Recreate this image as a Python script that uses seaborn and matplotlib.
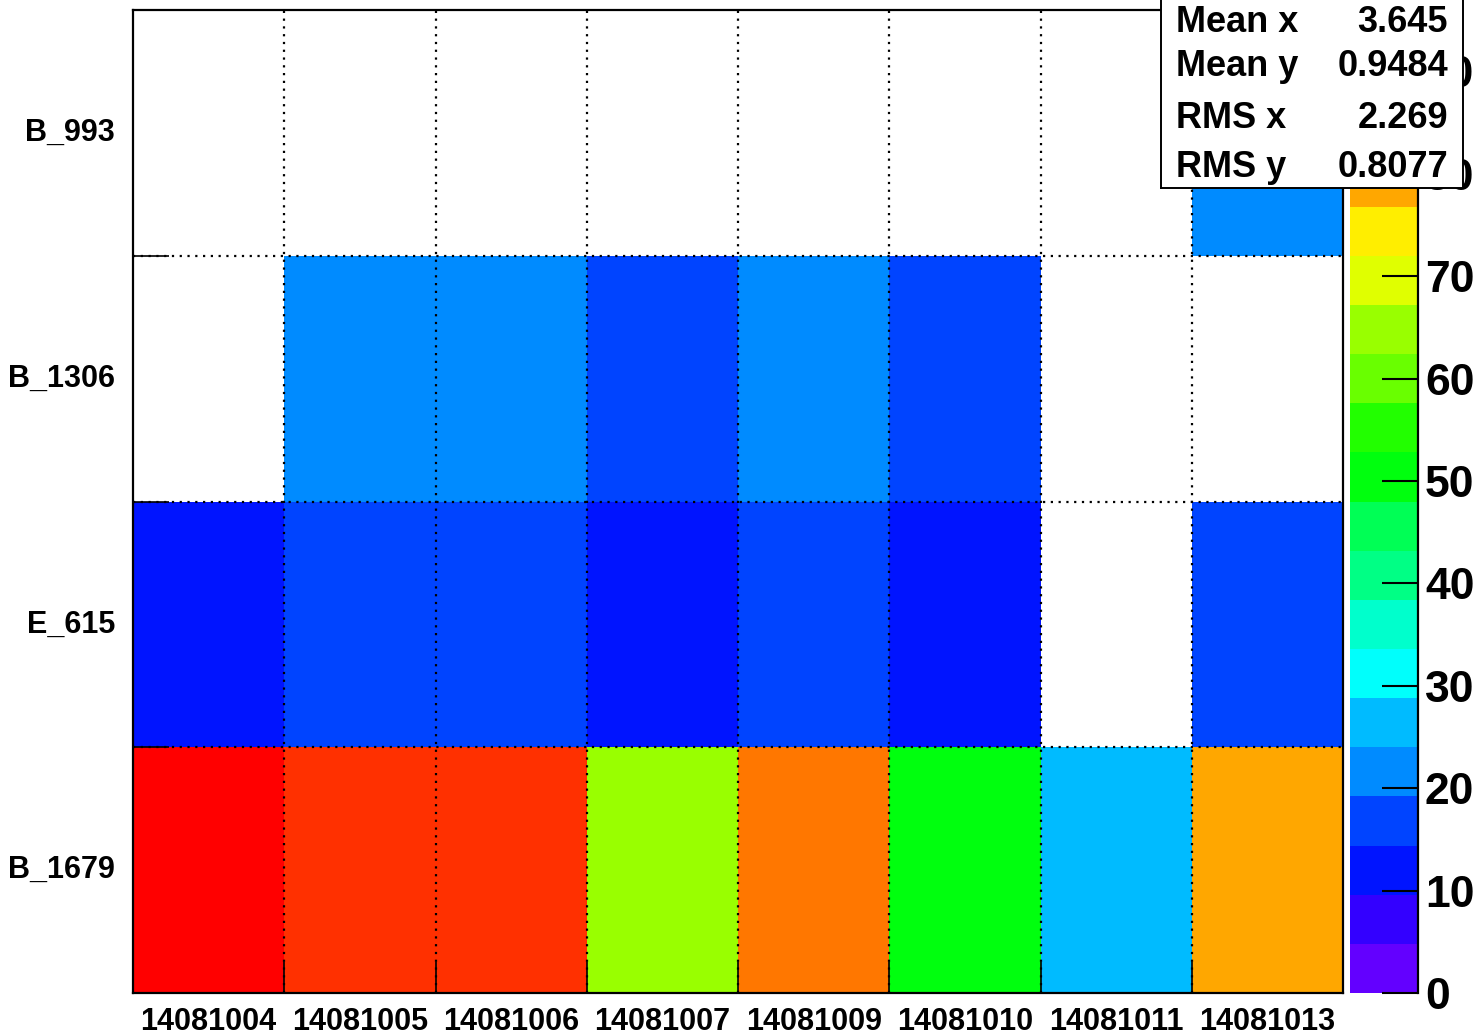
import colorsys

import matplotlib
matplotlib.use("Agg")
import matplotlib.pyplot as plt
import numpy as np
import pandas as pd
import seaborn as sns
from matplotlib.colors import ListedColormap

# run numbers (x bins) and chamber names (y bins, top to bottom)
RUNS = ["14081004", "14081005", "14081006", "14081007",
        "14081009", "14081010", "14081011", "14081013"]
CHAMBERS = ["B_993", "B_1306", "E_615", "B_1679"]

NAN = np.nan
B_993 = [NAN, NAN, NAN, NAN, NAN, NAN, NAN, 21]
B_1306 = [NAN, 21, 21, 17, 21, 17, NAN, NAN]
E_615 = [12, 17, 17, 12, 17, 12, NAN, 17]
B_1679 = [96, 89, 89, 65, 84, 50, 26, 79]

Z_MAX = 96
N_LEVELS = 20
CBAR_TICKS = [0, 10, 20, 30, 40, 50, 60, 70, 80, 90]

STAT_NAMES = ["Mean x", "Mean y", "RMS x", "RMS y"]
STAT_VALUES = ["3.645", "0.9484", "2.269", "0.8077"]

W, H = 1475, 1035


def root_pretty_palette(n_levels: int) -> ListedColormap:
    # old ROOT "pretty palette": 50 HLS hues, sampled once per contour level
    colors = []
    for k in range(n_levels):
        idx = int((k + 0.99) * 50 / n_levels)
        hue = max(280 - (idx + 1) * 5.6, 0)
        colors.append(colorsys.hls_to_rgb(hue / 360, 0.5, 1.0))
    return ListedColormap(colors)


def fx(px):
    return px / W


def fy(py):
    return 1 - py / H


table = pd.DataFrame([B_993, B_1306, E_615, B_1679], index=CHAMBERS, columns=RUNS)

plt.rcParams["font.family"] = ["Liberation Sans", "DejaVu Sans"]
plt.rcParams["font.weight"] = "bold"

fig = plt.figure(figsize=(W / 100, H / 100), dpi=100)
ax = fig.add_axes([fx(133), fy(993), fx(1343) - fx(133), fy(10) - fy(993)])
cax = fig.add_axes([fx(1350), fy(993), fx(1418) - fx(1350), fy(10) - fy(993)])

sns.heatmap(
    table,
    ax=ax,
    cbar_ax=cax,
    cmap=root_pretty_palette(N_LEVELS),
    vmin=0,
    vmax=Z_MAX,
    cbar_kws={"ticks": CBAR_TICKS},
)

# frame
for spine in ax.spines.values():
    spine.set_visible(True)
    spine.set_linewidth(1.6)
    spine.set_color("black")

# labels on bin centres, ticks and dotted grid on bin edges
ax.set_xticks(np.arange(len(RUNS)) + 0.5)
ax.set_xticklabels(RUNS, rotation=0, fontsize=22, fontweight="bold")
ax.set_yticks(np.arange(len(CHAMBERS)) + 0.5)
ax.set_yticklabels(CHAMBERS, rotation=0, fontsize=22, fontweight="bold")
ax.tick_params(axis="both", which="major", length=0)
ax.tick_params(axis="x", which="major", pad=10)
ax.tick_params(axis="y", which="major", pad=13)
ax.set_xticks(np.arange(1, len(RUNS)), minor=True)
ax.set_yticks(np.arange(1, len(CHAMBERS)), minor=True)
ax.tick_params(axis="x", which="minor", direction="in", length=22, width=1.2, color="black")
ax.tick_params(axis="y", which="minor", direction="in", length=26, width=1.2, color="black")
ax.set_axisbelow(False)
ax.grid(which="minor", color="black", linestyle=(0, (1, 2.5)), linewidth=1.6)
ax.set_xlabel("")
ax.set_ylabel("")

# colour scale axis
cbar = ax.collections[0].colorbar
cbar.outline.set_visible(False)
cax.axvline(1, color="black", linewidth=1.6, clip_on=False)
cax.yaxis.set_ticks_position("right")
cax.tick_params(axis="y", direction="in", length=26, width=1.5, labelsize=32, pad=5)
for label in cax.get_yticklabels():
    label.set_fontweight("bold")

# statistics box, its top runs off the picture (it covers the upper scale labels)
sax = fig.add_axes([fx(1161), fy(188), fx(1463) - fx(1161), fy(-60) - fy(188)])
sax.set_xticks([])
sax.set_yticks([])
sax.set_facecolor("white")
for spine in sax.spines.values():
    spine.set_linewidth(1.4)
for name, value, base in zip(STAT_NAMES, STAT_VALUES, [32, 76, 128, 177]):
    fig.text(fx(1176), fy(base), name, fontsize=26, fontweight="bold", va="baseline", ha="left")
    fig.text(fx(1448), fy(base), value, fontsize=26, fontweight="bold", va="baseline", ha="right")

fig.savefig("out.png", dpi=100)
